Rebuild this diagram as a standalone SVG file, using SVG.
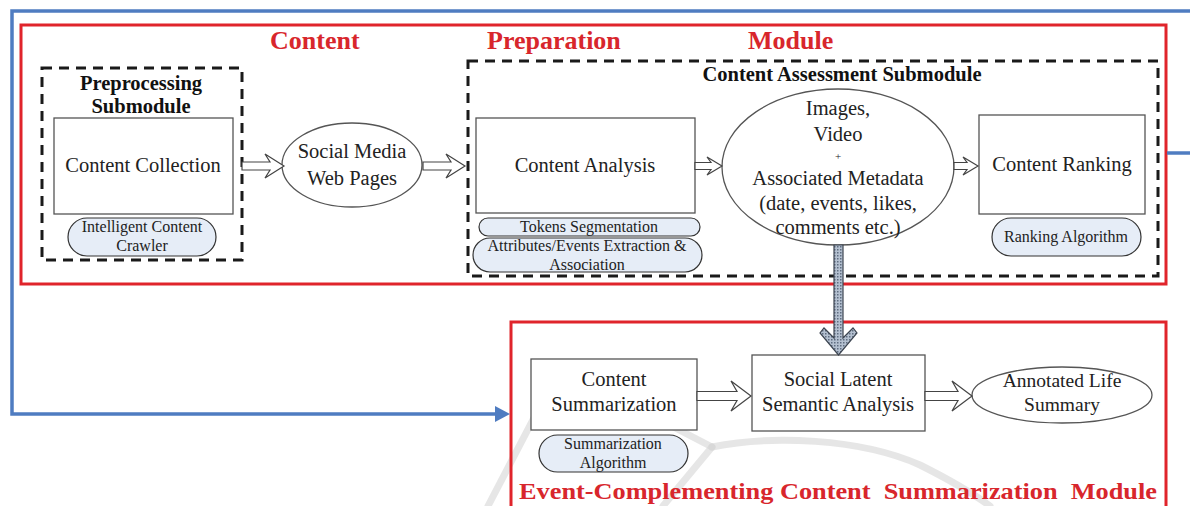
<svg xmlns="http://www.w3.org/2000/svg" width="1190" height="506" viewBox="0 0 1190 506">
  <style>
    .bg { fill: #ffffff; }
    .module { fill: none; stroke: #e0242b; stroke-width: 3; }
    .sub { fill: none; stroke: #1a1a1a; stroke-width: 3; stroke-dasharray: 10 7; }
    .box { fill: #ffffff; stroke: #555555; stroke-width: 1.3; }
    .pill { fill: #e6edf7; stroke: #333333; stroke-width: 1.2; }
    .harrow { fill: #ffffff; stroke: #444444; stroke-width: 1.2; stroke-linejoin: miter; }
    .flow { fill: none; stroke: #4f7cc1; stroke-width: 3.5; }
    .t { font-family: "Liberation Serif", "Times New Roman", serif; fill: #222222; text-anchor: middle; }
    .n { font-size: 20.5px; }
    .s { font-size: 16px; }
    .b { font-size: 20.5px; font-weight: bold; fill: #111111; }
    .red { font-family: "Liberation Serif", "Times New Roman", serif; font-weight: bold; fill: #d8262c; font-size: 26px; white-space: pre; }
    .wm { fill: none; stroke: #d6d6d6; stroke-width: 7; stroke-linecap: round; opacity: 0.6; }
  </style>
  <defs>
    <pattern id="dots" width="3" height="3" patternUnits="userSpaceOnUse">
      <rect width="3" height="3" fill="#b4c0d0"/>
      <rect width="1.5" height="1.5" fill="#5f6d80"/>
    </pattern>
  </defs>

  <rect class="bg" width="1190" height="506"/>

  <!-- faint background mark -->
  <g id="watermark">
    <path class="wm" d="M488,506 L560,368 L712,447"/>
    <path class="wm" d="M712,447 L663,506"/>
    <path class="wm" d="M712,447 C770,435 860,438 920,465 C950,480 975,495 990,506"/>
  </g>

  <!-- module frames -->
  <g id="content-preparation-module">
    <rect class="module" x="21" y="25" width="1145" height="259"/>
    <text class="red" x="270" y="49">Content</text>
    <text class="red" x="487" y="49">Preparation</text>
    <text class="red" x="748" y="49">Module</text>
  </g>

  <g id="summarization-module">
    <rect class="module" x="511" y="322" width="655" height="200"/>
    <text class="red" x="519" y="499" style="font-size:24px" textLength="638" lengthAdjust="spacingAndGlyphs">Event-Complementing Content  Summarization  Module</text>
  </g>

  <g id="preprocessing-submodule">
    <rect class="sub" x="42" y="68" width="200" height="192"/>
    <text class="t b" x="141" y="90">Preprocessing</text>
    <text class="t b" x="141" y="113">Submodule</text>
  </g>

  <g id="assessment-submodule">
    <rect class="sub" x="468" y="61" width="690" height="215"/>
    <text class="t b" x="842" y="81">Content Assessment Submodule</text>
  </g>

  <!-- nodes -->
  <g id="content-collection">
    <rect class="box" x="54" y="118" width="179" height="96"/>
    <text class="t n" x="143" y="172">Content Collection</text>
  </g>
  <g id="crawler">
    <rect class="pill" x="68" y="218" width="148" height="38" rx="19"/>
    <text class="t s" x="142" y="232">Intelligent Content</text>
    <text class="t s" x="142" y="251">Crawler</text>
  </g>

  <g id="social-media">
    <ellipse class="box" cx="352" cy="165" rx="70" ry="42"/>
    <text class="t n" x="352" y="158">Social Media</text>
    <text class="t n" x="352" y="185">Web Pages</text>
  </g>

  <g id="content-analysis">
    <rect class="box" x="476" y="118" width="219" height="95"/>
    <text class="t n" x="585" y="172">Content Analysis</text>
  </g>
  <g id="tokens">
    <rect class="pill" x="479" y="218" width="221" height="18" rx="9"/>
    <text class="t s" x="589" y="232">Tokens Segmentation</text>
  </g>
  <g id="attributes">
    <rect class="pill" x="473" y="238" width="229" height="34" rx="17"/>
    <text class="t s" x="587" y="251">Attributes/Events Extraction &amp;</text>
    <text class="t s" x="587" y="270">Association</text>
  </g>

  <g id="media-metadata">
    <ellipse class="box" cx="838" cy="167" rx="116" ry="78"/>
    <text class="t n" x="838" y="115">Images,</text>
    <text class="t n" x="838" y="141">Video</text>
    <text class="t" x="838" y="160" style="font-size:11px">+</text>
    <text class="t n" x="838" y="185">Associated Metadata</text>
    <text class="t n" x="838" y="210">(date, events, likes,</text>
    <text class="t n" x="838" y="234">comments etc.)</text>
  </g>

  <g id="content-ranking">
    <rect class="box" x="979" y="115" width="166" height="99"/>
    <text class="t n" x="1062" y="171">Content Ranking</text>
  </g>
  <g id="ranking-algorithm">
    <rect class="pill" x="992" y="218" width="149" height="38" rx="19"/>
    <text class="t s" x="1066" y="242">Ranking Algorithm</text>
  </g>

  <g id="content-summarization">
    <rect class="box" x="531" y="359" width="166" height="71"/>
    <text class="t n" x="614" y="386">Content</text>
    <text class="t n" x="614" y="411">Summarization</text>
  </g>
  <g id="summarization-algorithm">
    <rect class="pill" x="539" y="435" width="149" height="37" rx="18.5"/>
    <text class="t s" x="613" y="449">Summarization</text>
    <text class="t s" x="613" y="468">Algorithm</text>
  </g>

  <g id="slsa">
    <rect class="box" x="752" y="355" width="173" height="76"/>
    <text class="t n" x="838" y="386">Social Latent</text>
    <text class="t n" x="838" y="411">Semantic Analysis</text>
  </g>

  <g id="life-summary">
    <ellipse class="box" cx="1062" cy="395" rx="90" ry="28"/>
    <text class="t" x="1062" y="387" style="font-size:19.5px">Annotated Life</text>
    <text class="t" x="1062" y="411" style="font-size:19.5px">Summary</text>
  </g>

  <!-- connectors -->
  <g id="connectors">
    <polygon class="harrow" points="242,162 270,162 265,154 284,166 265,178 270,170 242,170"/>
    <polygon class="harrow" points="423,162 451,162 446,154 465,166 446,178 451,170 423,170"/>
    <polygon class="harrow" points="695,162.5 711,162.5 707,157 722,166 707,175 711,169.5 695,169.5"/>
    <polygon class="harrow" points="954,162.5 967,162.5 963,157 978,166 963,175 967,169.5 954,169.5"/>
    <polygon class="harrow" points="697,391.5 737,391.5 731,381 751,396 731,411 737,400.5 697,400.5"/>
    <polygon class="harrow" points="925,391.5 958,391.5 952,381 972,396 952,411 958,400.5 925,400.5"/>
    <polygon points="834,245 843,245 843,338 853,328 857,333 838.5,355 820,333 824,328 834,338" fill="url(#dots)" stroke="#3c4450" stroke-width="1.2"/>
    <path class="flow" d="M1190,11 H12 V414 H497"/>
    <polygon points="495,406 510,414 495,422" fill="#4f7cc1"/>
    <path class="flow" d="M1167,153 H1190"/>
  </g>
</svg>
